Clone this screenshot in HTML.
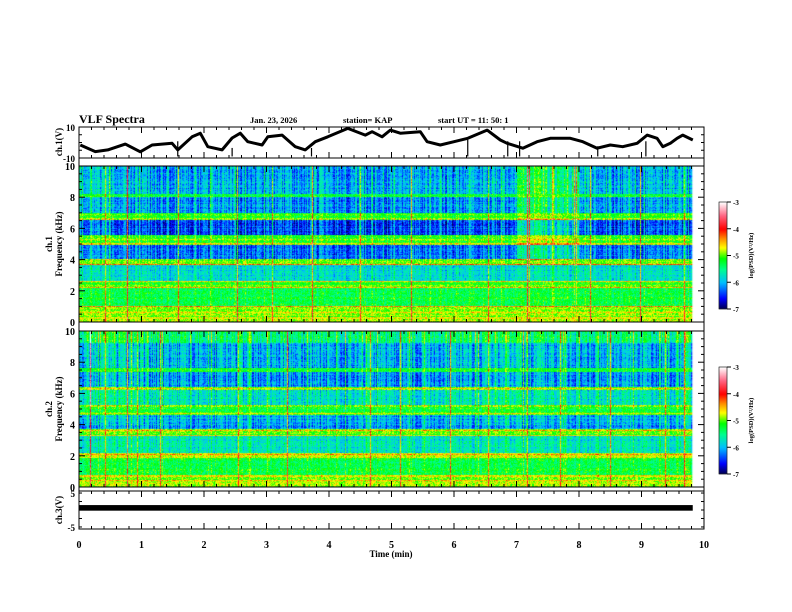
<!DOCTYPE html>
<html><head><meta charset="utf-8"><style>
html,body{margin:0;padding:0;background:#fff;}
#wrap{position:relative;width:792px;height:612px;overflow:hidden;background:#fff;}
canvas{position:absolute;left:0;top:0;}
svg{position:absolute;left:0;top:0;}
text{font-family:"Liberation Serif",serif;font-weight:bold;fill:#000;}
</style></head><body>
<div id="wrap">
<canvas id="spec" width="792" height="612"></canvas>
<svg id="ax" width="792" height="612"></svg>
</div>
<script>
// ---- data ----
const ch1Times = [0.02,0.26,0.46,0.74,0.98,1.17,1.49,1.58,1.81,1.94,2.06,2.29,2.45,2.58,2.70,2.93,3.02,3.25,3.46,3.62,3.78,3.98,4.30,4.58,4.69,4.85,4.98,5.14,5.46,5.57,5.78,6.00,6.22,6.53,6.74,6.85,7.10,7.33,7.54,7.86,8.06,8.29,8.50,8.70,8.93,9.09,9.25,9.34,9.46,9.57,9.66,9.82];
const ch1Values = [-1.6,-5.9,-4.8,-1.0,-6.0,-1.6,-0.5,-4.8,3.7,6.0,-2.7,-4.8,2.9,6.0,0.5,-1.6,3.7,4.8,-2.7,-4.8,0.5,3.7,9.1,4.8,7.0,3.7,8.0,6.0,7.0,0.5,-1.6,0.5,2.7,8.0,1.6,-0.5,-3.7,0.5,2.7,2.7,0.5,-3.7,-1.6,-2.7,-0.5,4.8,2.7,-2.7,-0.5,2.7,4.8,1.6];
const ch1DropTimes = [1.58,2.45,3.72,6.22,6.86,7.05,8.3,9.07];
const ch3Low = -0.2, ch3High = 1.45;
const cbTicks = [-3,-4,-5,-6,-7];
const freqTicks = [0,2,4,6,8,10];
const timeTicks = [0,1,2,3,4,5,6,7,8,9,10];
// spectrogram band structure: [fromKHz, toKHz, logPSD, columnSensitivity]
const bands1 = [[8.2,10,-6.0,1],[8.0,8.2,-5.2,0.3],[7.0,8.0,-6.1,1],[6.6,7.0,-5.1,0.3],[5.6,6.6,-6.35,1],[5.0,5.6,-5.15,0.4],[4.0,5.0,-6.2,0.9],[3.7,4.0,-5.0,0.3],[2.6,3.7,-5.8,0.6],[2.2,2.6,-5.05,0.2],[1.0,2.2,-5.3,0.4],[0,1.0,-4.9,0.2]];
const bands2 = [[9.2,10,-5.6,1],[7.6,9.2,-6.15,1],[7.4,7.6,-5.35,0.4],[6.4,7.4,-6.25,1],[6.2,6.4,-5.0,0.3],[5.2,6.2,-5.85,0.8],[4.8,5.2,-5.3,0.4],[4.6,4.8,-5.0,0.2],[3.7,4.6,-6.15,0.8],[3.3,3.7,-5.05,0.3],[2.2,3.3,-5.75,0.6],[1.9,2.2,-4.9,0.2],[0.7,1.9,-5.3,0.4],[0,0.7,-4.9,0.2]];
const lines1Freq = [3.7,2.6,2.2,1.0,0.6,0.25,5.3,5.0,6.6,4.0];
const lines1Level = [-4.3,-4.5,-4.4,-4.4,-4.5,-4.6,-4.7,-4.7,-4.9,-4.8];
const lines2Freq = [6.3,4.7,3.6,3.3,2.1,1.9,0.7,0.4,5.2];
const lines2Level = [-4.7,-4.7,-4.5,-4.6,-4.5,-4.7,-4.7,-4.5,-5.0];
const spikes1 = [0.42,0.77,1.58,2.53,3.09,3.73,4.5,5.31,6.54,7.17,8.18,8.98,9.68];
const spikes2 = [0.18,0.42,0.77,0.93,1.3,2.54,3.33,4.66,5.14,5.94,6.54,7.17,7.7,8.5,9.38,9.68];
// column activity per 0.5 min (broadband enhancement)
const activity1 = [0.6,0.5,0.4,0.4,0.5,0.4,0.4,0.4,0.4,0.4,0.4,0.4,0.4,0.5,1.4,1.1,0.4,0.4,0.4,0.5];
const activity2 = [0.8,0.7,0.6,0.6,0.6,0.6,0.6,0.6,0.6,0.6,0.6,0.6,0.7,0.8,0.7,0.6,0.6,0.6,0.6,0.7];

// ---- scales ----
const X0=79, X1=704, TMAX=10, TDATA=9.82;
const xS = t => X0 + (t/TMAX)*(X1-X0);
const P1 = {top:166, bot:322}, P2 = {top:331, bot:487};
const TOP = {top:127, bot:158, min:-10, max:10};
const BOT = {top:491, bot:529, min:-5.6, max:5.6};
const yT = v => TOP.bot - (v-TOP.min)/(TOP.max-TOP.min)*(TOP.bot-TOP.top);
const yB = v => BOT.bot - (v-BOT.min)/(BOT.max-BOT.min)*(BOT.bot-BOT.top);
const fS = (p,f) => p.bot - f/10*(p.bot-p.top);

const stops=[[-7,[0,0,70]],[-6.6,[0,0,255]],[-6.0,[0,190,255]],[-5.5,[0,255,140]],[-5.1,[0,255,0]],[-4.7,[255,255,0]],[-4.35,[255,140,0]],[-4.0,[255,0,0]],[-3.5,[255,100,130]],[-3.0,[255,255,255]]];
function cmap(v){
  if(v<=stops[0][0]) return stops[0][1];
  for(let i=1;i<stops.length;i++){ if(v<=stops[i][0]){const a=stops[i-1],b=stops[i];const r=(v-a[0])/(b[0]-a[0]);return a[1].map((c,k)=>Math.round(c+(b[1][k]-c)*r));}}
  return stops[stops.length-1][1];
}
function h(a,b){let n=(a*374761393+b*668265263)|0;n=(n^(n>>>13))*1274126177|0;return ((n^(n>>>16))>>>0)/4294967296;}

const cv=document.getElementById('spec'),ctx=cv.getContext('2d');
function drawSpec(p,bands,lf,ll,spikes,act,seed){
  const rows=p.bot-p.top, dt=0.016;
  const ncol=Math.floor(TDATA/dt);
  for(let i=0;i<ncol;i++){
    const t=i*dt, x=xS(t), w=xS(t+dt)-x;
    const a=act[Math.min(act.length-1,Math.floor(t/0.5))];
    const cn=h(i,seed)-0.5, cn2=h(i,seed+7);
    const streak = cn2>0.88 ? 0.9 : 0;
    let sp=0; for(const s of spikes){const d=Math.abs(t-s);if(d<0.009)sp=Math.max(sp,1.35);}
    for(let r=0;r<rows;r++){
      const f=10*(rows-r-0.5)/rows;
      let v=-5.5,s=0.5;
      for(const b of bands){if(f>=b[0]&&f<b[1]){v=b[2];s=b[3];break;}}
      for(let k=0;k<lf.length;k++){if(Math.abs(f-lf[k])<0.04)v=Math.max(v,ll[k]+0.2*(h(i,k)-0.5));}
      const fw = f>4 ? 1 : 0.2;
      v+= s*((a-0.45)*0.8*fw + streak*a + cn*0.8) + (h(i*131+r,seed)-0.5)*0.55 + (h(r,seed+3)-0.5)*0.25;
      v+= sp*(0.6+0.4*s);
      const c=cmap(v);
      ctx.fillStyle='rgb('+c[0]+','+c[1]+','+c[2]+')';
      ctx.fillRect(x,p.top+r,w+0.3,1);
    }
  }
}
drawSpec(P1,bands1,lines1Freq,lines1Level,spikes1,activity1,11);
drawSpec(P2,bands2,lines2Freq,lines2Level,spikes2,activity2,29);
function drawCB(y0,y1){
  for(let y=y0;y<y1;y++){const v=-3-4*(y-y0)/(y1-y0);const c=cmap(v);ctx.fillStyle='rgb('+c+')';ctx.fillRect(719,y,8,1);}
}
drawCB(202,309);drawCB(367,474);

// ---- svg axes ----
const NS='http://www.w3.org/2000/svg', svg=document.getElementById('ax');
function el(tag,at,parent){const e=document.createElementNS(NS,tag);for(const k in at)e.setAttribute(k,at[k]);(parent||svg).appendChild(e);return e;}
function txt(s,x,y,sz,anchor,rot,name){const e=el('text',{x:x,y:y,'font-size':sz,'text-anchor':anchor||'start'});if(rot)e.setAttribute('transform','rotate(-90 '+x+' '+y+')');e.textContent=s;


return e;}
function ln(x1,y1,x2,y2,w){return el('line',{x1:x1,y1:y1,x2:x2,y2:y2,stroke:'#000','stroke-width':w||1});}

txt('VLF Spectra',79,123,12,'start',0,'chart-title');
txt('Jan. 23, 2026',250,123,8.5,'start',0,'date-label');
txt('station= KAP',343,123,8.5,'start',0,'station-label');
txt('start  UT =   11: 50: 1',438,123,8.5,'start',0,'start-time-label');

let d='';ch1Times.forEach((t,i)=>{d+=(i?'L':'M')+xS(t).toFixed(1)+' '+yT(ch1Values[i]).toFixed(1);});
const tr=el('path',{d:d,fill:'none',stroke:'#000','stroke-width':3,'stroke-linejoin':'round'});


ch1DropTimes.forEach(t=>{
  let k=0;while(k<ch1Times.length-1&&ch1Times[k+1]<t)k++;
  const l=ln(xS(t),yT(ch1Values[k])-2,xS(t),yT(-9),1.2);
  
  
});
const b3=el('rect',{x:X0,y:yB(ch3High),width:xS(TDATA)-X0,height:yB(ch3Low)-yB(ch3High),fill:'#000'});



const frames=[[TOP.top,TOP.bot],[P1.top,P1.bot],[P2.top,P2.bot],[BOT.top,BOT.bot]];
frames.forEach(([a,b])=>{
  const r=el('rect',{x:X0,y:a,width:X1-X0,height:b-a,fill:'none',stroke:'#000','stroke-width':1});
  
  
  for(let t=0;t<=10.001;t+=0.2){const maj=Math.abs(t-Math.round(t))<0.01;const L=maj?6:3;ln(xS(t),a,xS(t),a+L);ln(xS(t),b,xS(t),b-L);}
});
ln(X0,158,X0,166);ln(X1,158,X1,166);ln(X0,322,X0,331);ln(X1,322,X1,331);ln(X0,487,X0,491);ln(X1,487,X1,491);
[P1,P2].forEach((p,pi)=>{
  for(let f=0;f<=10.001;f+=0.5){const maj=Math.abs(f/2-Math.round(f/2))<0.01;const L=maj?6:3;ln(X0,fS(p,f),X0+L,fS(p,f));ln(X1,fS(p,f),X1-L,fS(p,f));}
  freqTicks.forEach(f=>txt(String(f),X0-4,fS(p,f)+4,10,'end',0,'freq-tick-label'));
  txt('ch.'+(pi==0?1:2),52,(p.top+p.bot)/2,9,'middle',1,'panel-channel-label');
  txt('Frequency (kHz)',62,(p.top+p.bot)/2,9,'middle',1,'freq-axis-title');
});
[[10,'10'],[-10,'-10']].forEach(([v,s])=>txt(s,X0-4,yT(v)+4,9,'end',0,'ch1-tick-label'));
[-10,-5,0,5,10].forEach(v=>{ln(X0,yT(v),X0+3,yT(v));ln(X1,yT(v),X1-3,yT(v));});
txt('ch.1(V)',62,142,9,'middle',1,'ch1-axis-title');
[[5,'5'],[-5,'-5']].forEach(([v,s])=>txt(s,X0-4,yB(v)+4,9,'end',0,'ch3-tick-label'));
[-5,-2.5,0,2.5,5].forEach(v=>{ln(X0,yB(v),X0+3,yB(v));ln(X1,yB(v),X1-3,yB(v));});
txt('ch.3(V)',62,510,9,'middle',1,'ch3-axis-title');
timeTicks.forEach(t=>txt(String(t),xS(t),548,10,'middle',0,'time-tick-label'));
txt('Time  (min)',391,557,9,'middle',0,'x-axis-title');
[[202,309],[367,474]].forEach(([a,b])=>{
  const r=el('rect',{x:719,y:a,width:8,height:b-a,fill:'none',stroke:'#000','stroke-width':0.6});
  
  
  cbTicks.forEach((v,i)=>{const y=a+(b-a)*i/4;ln(727,y,731,y);txt(String(v),733,y+3,7,'start',0,'colorbar-tick-label');});
  txt('log(PSD)(V²/Hz)',753,(a+b)/2,6.5,'middle',1,'colorbar-title');
});
</script>
</body></html>
